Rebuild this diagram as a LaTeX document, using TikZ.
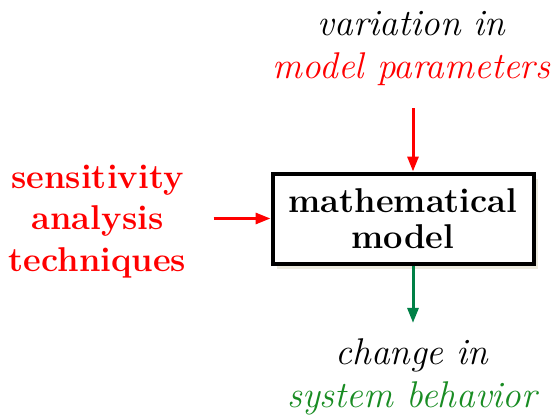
\documentclass[tikz,border=0pt]{standalone}
\usetikzlibrary{arrows.meta,shadows}
\definecolor{behaviorgreen}{RGB}{25,140,35}
\definecolor{arrowgreen}{RGB}{0,128,70}
\definecolor{shadowbeige}{RGB}{236,234,222}
\begin{document}
\begin{tikzpicture}[x=0.5pt,y=-0.5pt,
		emphtext/.style={font=\fontsize{18.6}{21.5}\selectfont\itshape,align=center,inner sep=0pt},
		boldtext/.style={font=\fontsize{17.2}{20.75}\selectfont\bfseries,align=center,inner sep=0pt},
		flow/.style={-{Triangle[length=7.5pt,width=5.5pt]},line width=1.5pt}]
	\useasboundingbox (0,0) rectangle (553,418);
	\node[boldtext,font=\fontsize{17.2}{18}\selectfont\bfseries,draw,line width=2pt,fill=white,
		minimum width=130.5pt,minimum height=45pt,
		drop shadow={shadow xshift=2pt,shadow yshift=-2.5pt,fill=shadowbeige,opacity=1}]
		(model) at (403,218.5) {mathematical\\model};
	\node[emphtext] (params) at (411.5,48.5) {variation in\\\textcolor{red}{model parameters}};
	\node[emphtext] (behavior) at (412,376.5) {change in\\\textcolor{behaviorgreen}{system behavior}};
	\node[boldtext,text=red] (methods) at (97.5,221.5) {sensitivity\\analysis\\techniques};
	\draw[flow,red] ([xshift=0.75pt,yshift=-11pt]params.south) -- ([xshift=0.75pt]params.south |- model.north);
	\draw[flow,red] ([xshift=13.5pt]methods.east |- model.west) -- (model.west);
	\draw[flow,arrowgreen] ([xshift=0.5pt]behavior.north |- model.south) -- ([xshift=0.5pt,yshift=7.5pt]behavior.north);
\end{tikzpicture}
\end{document}
